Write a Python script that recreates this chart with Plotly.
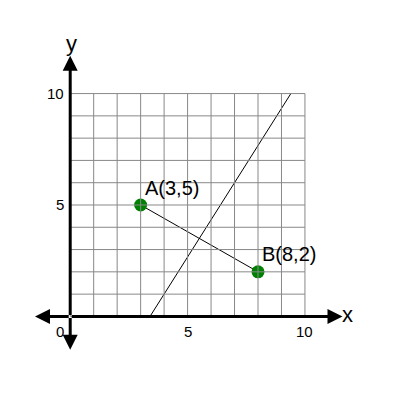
import plotly.graph_objects as go

# points and labels
pt_x = [3, 8]
pt_y = [5, 2]
pt_labels = ["A(3,5)", "B(8,2)"]

# perpendicular bisector ends (y = 0 and y = 10)
bis_x = [3.4, 9.4]
bis_y = [0, 10]

grid_vals = list(range(0, 11))
tick_vals = [5, 10]

fig = go.Figure()

# grid
for v in grid_vals:
    fig.add_shape(type="line", x0=v, x1=v, y0=0, y1=10, line=dict(color="#888", width=1))
    fig.add_shape(type="line", x0=0, x1=10, y0=v, y1=v, line=dict(color="#888", width=1))

# axes with arrowheads on both ends
for (x, y) in [(11.6, 0), (-1.5, 0), (0, 11.7), (0, -1.5)]:
    fig.add_annotation(x=x, y=y, ax=0, ay=0, xref="x", yref="y", axref="x", ayref="y",
                       showarrow=True, arrowhead=2, arrowsize=1, arrowwidth=3,
                       arrowcolor="black", text="")

fig.add_trace(go.Scatter(x=bis_x, y=bis_y, mode="lines", line=dict(color="black", width=1)))
fig.add_trace(go.Scatter(x=pt_x, y=pt_y, mode="lines", line=dict(color="black", width=1)))
fig.add_trace(go.Scatter(x=pt_x, y=pt_y, mode="markers",
                         marker=dict(color="green", size=13)))
for px, py, lab in zip(pt_x, pt_y, pt_labels):
    fig.add_annotation(x=px + 0.1, y=py + 0.2, text=lab, showarrow=False,
                       xanchor="left", yanchor="bottom",
                       font=dict(size=20, color="black", family="Liberation Sans"))

font = dict(size=15, color="black", family="Liberation Sans")
for v in tick_vals:
    fig.add_annotation(x=v, y=-0.2, text=str(v), showarrow=False, yanchor="top", font=font)
    fig.add_annotation(x=-0.2, y=v, text=str(v), showarrow=False, xanchor="right", font=font)
fig.add_annotation(x=-0.2, y=-0.2, text="0", showarrow=False, xanchor="right", yanchor="top", font=font)
fig.add_annotation(x=11.5, y=0.1, text="x", showarrow=False, xanchor="left",
                   font=dict(size=22, color="black", family="Liberation Sans"))
fig.add_annotation(x=0.05, y=11.6, text="y", showarrow=False, yanchor="bottom",
                   font=dict(size=22, color="black", family="Liberation Sans"))

fig.update_xaxes(range=[-2.65, 14.39], visible=False)
fig.update_yaxes(range=[-4.11, 13.84], visible=False)
fig.update_layout(width=400, height=400, margin=dict(l=0, r=0, t=0, b=0),
                  plot_bgcolor="white", paper_bgcolor="white", showlegend=False)

fig.write_html("out.html")
